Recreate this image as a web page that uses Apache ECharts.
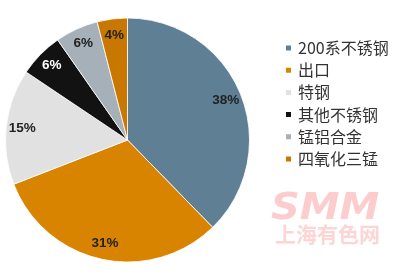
<!DOCTYPE html>
<html><head><meta charset="utf-8">
<script src="https://cdn.jsdelivr.net/npm/echarts@6/dist/echarts.min.js"></script>
<style>html,body{margin:0;padding:0;background:#fff}#c{width:396px;height:278px}</style>
</head><body><div id="c"></div>
<script>
var categories = ['200系不锈钢', '出口', '特钢', '其他不锈钢', '锰铝合金', '四氧化三锰'];
var values = [37.7, 31.4, 15.3, 5.9, 5.7, 4.0];
var colors = ['#5E7F94', '#D88400', '#E1E1E1', '#121212', '#A6B0B9', '#C87700'];
var labelColors = ['#222', '#222', '#222', '#fff', '#222', '#222'];

var chart = echarts.init(document.getElementById('c'), null, {renderer: 'canvas'});
var baseData = categories.map(function (n, i) {
  return {name: n, value: values[i], itemStyle: {color: colors[i]}};
});
var labelData = categories.map(function (n, i) {
  return {name: n, value: values[i], label: {color: labelColors[i]}};
});
chart.setOption({
  animation: false,
  legend: {
    orient: 'vertical', left: 284, top: 40, padding: 0,
    icon: 'rect', itemWidth: 7, itemHeight: 7, itemGap: 6.2,
    textStyle: {fontSize: 16, color: '#333', fontFamily: 'Noto Sans CJK SC', padding: [0, 0, 0, 1]},
    data: categories
  },
  graphic: [
    {type: 'text', left: 271, top: 191, scaleX: 1.08, style: {text: 'SMM', font: 'italic bold 37px "DejaVu Sans"', fill: '#FDCDCD'}, z: -1},
    {type: 'text', left: 275, top: 224, style: {text: '上海有色网', font: 'bold 21px "Noto Sans CJK SC"', fill: '#FDD5D5'}, z: -1}
  ],
  series: [
    {
      type: 'pie', center: [127.5, 140], radius: [0, 122],
      startAngle: 90, clockwise: true, percentPrecision: 0,
      label: {show: false}, labelLine: {show: false},
      itemStyle: {borderColor: '#fff', borderWidth: 0.8},
      emphasis: {disabled: true},
      data: baseData
    },
    {
      type: 'pie', center: [127.5, 140], radius: [84, 122],
      startAngle: 90, clockwise: true, percentPrecision: 0, silent: true,
      itemStyle: {color: 'transparent'},
      label: {show: true, position: 'inside', formatter: '{d}%', fontSize: 13.5, fontWeight: 'bold', fontFamily: 'Liberation Sans'},
      labelLine: {show: false},
      emphasis: {disabled: true},
      legendHoverLink: false,
      data: labelData
    }
  ]
});
</script></body></html>
